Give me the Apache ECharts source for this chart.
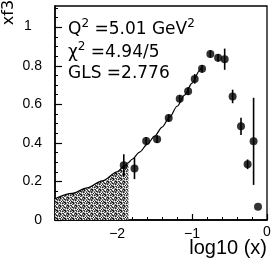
<!DOCTYPE html>
<html><head><meta charset="utf-8">
<script src="https://cdn.jsdelivr.net/npm/echarts@6/dist/echarts.min.js"></script>
<style>html,body{margin:0;padding:0;background:#fff}#c{width:273px;height:265px}</style>
</head><body><div id="c"></div>
<script>
// ---- data ----
const pointX = [-1.912,-1.769,-1.613,-1.467,-1.312,-1.165,-1.053,-0.965,-0.867,-0.756,-0.653,-0.565,-0.459,-0.347,-0.259,-0.179,-0.120];
const pointY = [0.284,0.267,0.410,0.419,0.529,0.629,0.668,0.732,0.784,0.861,0.841,0.834,0.641,0.486,0.289,0.408,0.069];
const pointErr = [0.057,0.055,0.020,0.020,0.020,0.020,0.020,0.025,0.020,0.020,0.020,0.055,0.035,0.045,0.025,0.226,0.0];
const curveX = [-2.83,-2.6,-2.4,-2.2,-2.0,-1.9,-1.85,-1.8,-1.7,-1.6,-1.5,-1.4,-1.3,-1.2,-1.1,-1.0,-0.9,-0.88];
const curveY = [0.110,0.138,0.167,0.203,0.250,0.282,0.298,0.315,0.352,0.392,0.435,0.482,0.534,0.590,0.648,0.710,0.775,0.790];
const shadeEndX = -1.85;
const xMajorTicks = [-2,-1,0];
const xTickLabels = ['\u22122','\u22121','0'];
const xMinorTicks = [-2.8,-2.6,-2.4,-2.2,-1.8,-1.6,-1.4,-1.2,-0.8,-0.6,-0.4,-0.2];
const yMajorTicks = [0,0.2,0.4,0.6,0.8,1];
const yTickLabels = ['0','0.2','0.4','0.6','0.8','1'];
const yMinorTicks = [0.05,0.1,0.15,0.25,0.3,0.35,0.45,0.5,0.55,0.65,0.7,0.75,0.85,0.9,0.95,1.05,1.1];
const textLines = ['Q{s|2} =5.01 GeV{s|2}', '\u03c7{s|2} =4.94/5', 'GLS =2.776'];
const xTitle = 'log10 (x)';
const yTitle = 'xf3';
const yTitleAt = 1.076; // y-value where the rotated y title is centred

// ---- shading pattern ----
function makePattern(){
  const c = document.createElement('canvas'); c.width = 8; c.height = 8;
  const g = c.getContext('2d');
  const lv = [250, 185, 125, 70, 25];
  for (let i=0;i<8;i++) for (let j=0;j<8;j++){
    const v = lv[(i*3 + j*7 + ((i*j)%3)) % 5];
    g.fillStyle = 'rgb('+v+','+v+','+v+')'; g.fillRect(i,j,1,1);
  }
  return c;
}

const XMIN = -2.83, XMAX = 0, YMIN = 0, YMAX = 1.11;
const chart = echarts.init(document.getElementById('c'), null, {renderer:'canvas'});
const curveData = curveX.map((x,i)=>[x, curveY[i]]);
const shadeData = curveData.filter(p => p[0] <= shadeEndX + 1e-9);
const pts = pointX.map((x,i)=>[x, pointY[i]]);
const errs = pointX.map((x,i)=>[x, pointY[i]-pointErr[i], pointY[i]+pointErr[i]]).filter((d,i)=>pointErr[i]>0);

const xAxisLabelVals = xMajorTicks.filter(v => v > XMIN && v < XMAX);
const yAxisLabelVals = yMajorTicks.filter(v => yTickLabels[yMajorTicks.indexOf(v)] !== '1');

const axisBase = {min:XMIN, max:XMAX, type:'value', splitLine:{show:false}};
const option = {
  animation:false,
  backgroundColor:'#fff',
  grid:{left:55, top:6, width:212, height:214, show:true, borderColor:'#000', borderWidth:1.3, backgroundColor:'transparent',
        containLabel:false, outerBoundsMode:'none'},
  xAxis:[
    Object.assign({}, axisBase, {
      position:'bottom',
      axisLine:{show:true, onZero:false, lineStyle:{color:'#000', width:1.5}},
      axisTick:{show:true, inside:true, length:6, customValues:xMajorTicks, lineStyle:{color:'#000', width:1.2}},
      axisLabel:{show:true, customValues:xAxisLabelVals, margin:7, color:'#000', fontSize:14, fontFamily:'Liberation Sans',
        formatter:v => xTickLabels[xMajorTicks.findIndex(t=>Math.abs(t-v)<1e-9)]}
    }),
    Object.assign({}, axisBase, {
      position:'bottom',
      axisLine:{show:false, onZero:false},
      axisTick:{show:true, inside:true, length:3, customValues:xMinorTicks, lineStyle:{color:'#000', width:1}},
      axisLabel:{show:false}
    })
  ],
  yAxis:[
    {type:'value', min:YMIN, max:YMAX, position:'left', splitLine:{show:false},
      axisLine:{show:true, onZero:false, lineStyle:{color:'#000', width:1.5}},
      axisTick:{show:true, inside:true, length:7, customValues:yMajorTicks, lineStyle:{color:'#000', width:1.2}},
      axisLabel:{show:true, customValues:yAxisLabelVals, margin:13, color:'#000', fontSize:14, fontFamily:'Liberation Sans',
        formatter:v => yTickLabels[yMajorTicks.findIndex(t=>Math.abs(t-v)<1e-9)]}
    },
    {type:'value', min:YMIN, max:YMAX, position:'left', splitLine:{show:false},
      axisLine:{show:false, onZero:false},
      axisTick:{show:true, inside:true, length:3, customValues:yMinorTicks, lineStyle:{color:'#000', width:1}},
      axisLabel:{show:false}
    },
    {type:'value', min:YMIN, max:YMAX, position:'left', offset:36, splitLine:{show:false},
      axisLine:{show:false, onZero:false}, axisTick:{show:false},
      axisLabel:{show:true, customValues:[yTitleAt], rotate:90, margin:2, formatter:() => yTitle,
        fontFamily:'DejaVu Sans', fontSize:16, color:'#000'}
    }
  ],
  series:[
    {type:'line', data:shadeData, smooth:0.3, smoothMonotone:'x', symbol:'none', lineStyle:{width:0},
      areaStyle:{color:{image:makePattern(), repeat:'repeat'}, opacity:1}, z:1},
    {type:'line', data:curveData, smooth:0.3, smoothMonotone:'x', symbol:'none', lineStyle:{color:'#000', width:1.2}, z:3},
    {type:'custom', data:errs, encode:{x:0, y:[1,2]}, z:4,
      renderItem:(params, api) => {
        const x = api.value(0);
        const p1 = api.coord([x, api.value(1)]);
        const p2 = api.coord([x, api.value(2)]);
        return {type:'line', shape:{x1:p1[0], y1:p1[1], x2:p2[0], y2:p2[1]}, style:{stroke:'#000', lineWidth:1.6}};
      }},
    {type:'scatter', data:pts, symbol:'circle', symbolSize:8, itemStyle:{color:'#000'}, z:5}
  ],
  graphic:[
    {id:'t1', type:'text', left:68, top:18, style:{text:textLines[0], font:'17px "DejaVu Sans"', fill:'#000', lineHeight:24,
      rich:{s:{fontSize:12, fontFamily:'DejaVu Sans', verticalAlign:'top', lineHeight:24}}}},
    {id:'t2', type:'text', left:68, top:41, style:{text:textLines[1], font:'17px "DejaVu Sans"', fill:'#000', lineHeight:24,
      rich:{s:{fontSize:12, fontFamily:'DejaVu Sans', verticalAlign:'top', lineHeight:24}}}},
    {id:'t3', type:'text', left:68, top:62, style:{text:textLines[2], font:'17px "DejaVu Sans"', fill:'#000', lineHeight:24}},
    {id:'xt', type:'text', right:6, top:238, style:{text:xTitle, font:'20px "Liberation Sans"', fill:'#000'}}
  ]
};
chart.setOption(option);
// edge tick labels positioned from the axis scale
const px0 = chart.convertToPixel({xAxisIndex:0}, XMAX);
const py1 = chart.convertToPixel({yAxisIndex:0}, 1);
chart.setOption({graphic:[
  {id:'x0lab', type:'text', left:px0 - 4, top:225, z:10, style:{text:xTickLabels[2], font:'14px "Liberation Sans"', fill:'#000'}},
  {id:'y1lab', type:'text', left:24, top:py1 - 8, z:10, style:{text:yTickLabels[5], font:'14px "Liberation Sans"', fill:'#000'}}
]});
</script></body></html>
